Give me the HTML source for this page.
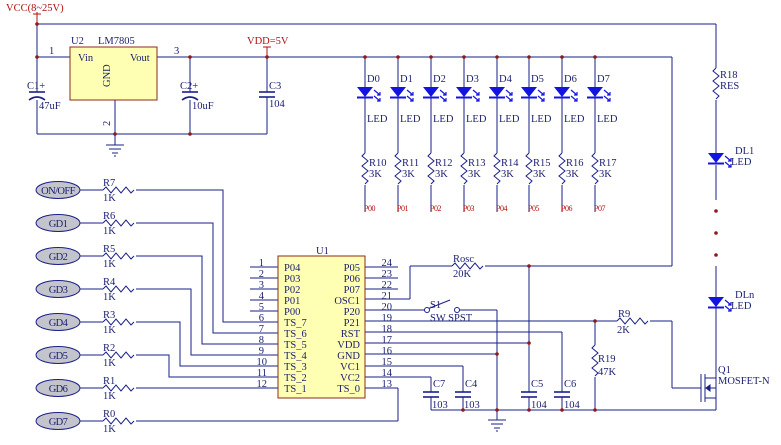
<!DOCTYPE html>
<html><head><meta charset="utf-8"><style>
html,body{margin:0;padding:0;background:#fff;}
svg{display:block;}
text{font-family:"Liberation Serif",serif;fill:#1a1f6e;}
.r{fill:#b01010;}
</style></head><body>
<svg width="781" height="445" viewBox="0 0 781 445" xmlns="http://www.w3.org/2000/svg">
<defs>
<path id="hr" d="M0,0 l3,-3 l5,6 l5,-6 l5,6 l5,-6 l5,6 l3,-3" fill="none" stroke="#1a1f8a" stroke-width="1"/>
<path id="vr" d="M0,0 l-3,3 l6,5 l-6,5 l6,5 l-6,5 l6,5 l-3,3" fill="none" stroke="#1a1f8a" stroke-width="1"/>
<g id="led">
<path d="M-8,0 L8,0 L0,10 Z" fill="#1414e0"/>
<line x1="-8" y1="10.5" x2="8" y2="10.5" stroke="#1414e0" stroke-width="2"/>
<path d="M9,3 l6,5 M12,8 l3,0 l0,-3 M9,9 l6,5 M12,14 l3,0 l0,-3" stroke="#1414e0" stroke-width="1.2" fill="none"/>
</g>
<circle id="dot" r="1.8" fill="#8b1a1a"/>
<g id="gnd" stroke="#1a1f8a" stroke-width="1"><line x1="-9" y1="0" x2="9" y2="0"/><line x1="-6" y1="4" x2="6" y2="4"/><line x1="-3" y1="8" x2="3" y2="8"/><line x1="-1" y1="11" x2="1" y2="11"/></g>
<g id="cap" stroke="#1a1f8a" stroke-width="1.6"><line x1="-8" y1="0" x2="8" y2="0"/><line x1="-8" y1="5" x2="8" y2="5"/></g>
</defs>
<g stroke="#1a1f8a" stroke-width="1" fill="none">
<!-- power -->
<line x1="37" y1="14" x2="37" y2="134"/>
<line x1="37" y1="24" x2="716" y2="24"/>
<line x1="37" y1="57" x2="70" y2="57"/>
<line x1="157" y1="57" x2="672" y2="57"/>
<line x1="672" y1="57" x2="672" y2="266"/>
<line x1="37" y1="134" x2="267" y2="134"/>
<line x1="115" y1="100" x2="115" y2="145"/>
<line x1="190" y1="57" x2="190" y2="134"/>
<line x1="267" y1="47" x2="267" y2="134"/>
<!-- right LEDs -->
<line x1="716" y1="24" x2="716" y2="68"/>
<line x1="716" y1="100" x2="716" y2="153"/>
<line x1="716" y1="165" x2="716" y2="200"/>
<line x1="716" y1="266" x2="716" y2="297"/>
<line x1="716" y1="308" x2="716" y2="372"/>
<line x1="716" y1="405" x2="716" y2="410"/>
<!-- rosc -->
<line x1="365" y1="299" x2="410" y2="299"/>
<line x1="410" y1="299" x2="410" y2="266"/>
<line x1="410" y1="266" x2="452" y2="266"/>
<line x1="485" y1="266" x2="672" y2="266"/>
<line x1="529" y1="266" x2="529" y2="392"/>
<line x1="529" y1="397" x2="529" y2="410"/>
<!-- right pins -->
<line x1="365" y1="267" x2="398" y2="267"/>
<line x1="365" y1="278" x2="398" y2="278"/>
<line x1="365" y1="289" x2="398" y2="289"/>
<line x1="365" y1="310" x2="425" y2="310"/>
<line x1="425" y1="310" x2="450" y2="300"/>
<line x1="459" y1="310" x2="497" y2="310"/>
<line x1="497" y1="310" x2="497" y2="420"/>
<line x1="365" y1="321" x2="617" y2="321"/>
<line x1="650" y1="321" x2="672" y2="321"/>
<line x1="672" y1="321" x2="672" y2="388"/>
<line x1="672" y1="388" x2="701" y2="388"/>
<line x1="595" y1="321" x2="595" y2="345"/>
<line x1="595" y1="377" x2="595" y2="410"/>
<line x1="365" y1="332" x2="562" y2="332"/>
<line x1="562" y1="332" x2="562" y2="392"/>
<line x1="562" y1="397" x2="562" y2="410"/>
<line x1="365" y1="343" x2="529" y2="343"/>
<line x1="365" y1="354" x2="497" y2="354"/>
<line x1="365" y1="366" x2="463" y2="366"/>
<line x1="463" y1="366" x2="463" y2="392"/>
<line x1="463" y1="397" x2="463" y2="410"/>
<line x1="365" y1="377" x2="431" y2="377"/>
<line x1="431" y1="377" x2="431" y2="392"/>
<line x1="431" y1="397" x2="431" y2="410"/>
<line x1="365" y1="388" x2="398" y2="388"/>
<line x1="398" y1="388" x2="398" y2="421"/>
<line x1="136" y1="421" x2="398" y2="421"/>
<line x1="431" y1="410" x2="716" y2="410"/>
<!-- left pins -->
<line x1="250" y1="267" x2="278" y2="267"/>
<line x1="250" y1="278" x2="278" y2="278"/>
<line x1="250" y1="289" x2="278" y2="289"/>
<line x1="250" y1="300" x2="278" y2="300"/>
<line x1="250" y1="311" x2="278" y2="311"/>
<polyline points="136,190 223,190 223,322 278,322"/>
<polyline points="136,223 213,223 213,333 278,333"/>
<polyline points="136,256 202,256 202,344 278,344"/>
<polyline points="136,289 191,289 191,355 278,355"/>
<polyline points="136,322 180,322 180,366 278,366"/>
<polyline points="136,355 169,355 169,377 278,377"/>
<line x1="136" y1="388" x2="278" y2="388"/>
<!-- GD to resistors -->
<line x1="80" y1="190" x2="103" y2="190"/><line x1="80" y1="223" x2="103" y2="223"/>
<line x1="80" y1="256" x2="103" y2="256"/><line x1="80" y1="289" x2="103" y2="289"/>
<line x1="80" y1="322" x2="103" y2="322"/><line x1="80" y1="355" x2="103" y2="355"/>
<line x1="80" y1="388" x2="103" y2="388"/><line x1="80" y1="421" x2="103" y2="421"/>
<!-- mosfet -->
<line x1="701" y1="374" x2="701" y2="402"/>
<line x1="705" y1="374" x2="705" y2="402"/>
<polyline points="705,378 716,378 716,372"/>
<polyline points="705,398 716,398 716,405"/>
<line x1="705" y1="388" x2="716" y2="388"/>
<line x1="716" y1="378" x2="716" y2="398"/>
<path d="M706,388 l4,-3 l0,6 Z" fill="#1a1f8a"/>
</g>
<!-- LED columns -->
<g stroke="#1a1f8a" stroke-width="1">
<line x1="365" y1="57" x2="365" y2="212"/><line x1="398" y1="57" x2="398" y2="212"/>
<line x1="431" y1="57" x2="431" y2="212"/><line x1="464" y1="57" x2="464" y2="212"/>
<line x1="497" y1="57" x2="497" y2="212"/><line x1="529" y1="57" x2="529" y2="212"/>
<line x1="562" y1="57" x2="562" y2="212"/><line x1="595" y1="57" x2="595" y2="212"/>
</g>
<g fill="#fff">
<rect x="360" y="153" width="10" height="32"/><rect x="393" y="153" width="10" height="32"/>
<rect x="426" y="153" width="10" height="32"/><rect x="459" y="153" width="10" height="32"/>
<rect x="492" y="153" width="10" height="32"/><rect x="524" y="153" width="10" height="32"/>
<rect x="557" y="153" width="10" height="32"/><rect x="590" y="153" width="10" height="32"/>
<rect x="710" y="68" width="10" height="32"/>
<rect x="590" y="345" width="10" height="32"/>
</g>
<use href="#vr" x="365" y="153"/><use href="#vr" x="398" y="153"/><use href="#vr" x="431" y="153"/><use href="#vr" x="464" y="153"/>
<use href="#vr" x="497" y="153"/><use href="#vr" x="529" y="153"/><use href="#vr" x="562" y="153"/><use href="#vr" x="595" y="153"/>
<use href="#vr" x="716" y="68"/><use href="#vr" x="595" y="345"/>
<use href="#led" x="365" y="87"/><use href="#led" x="398" y="87"/><use href="#led" x="431" y="87"/><use href="#led" x="464" y="87"/>
<use href="#led" x="497" y="87"/><use href="#led" x="529" y="87"/><use href="#led" x="562" y="87"/><use href="#led" x="595" y="87"/>
<use href="#led" x="716" y="153"/><use href="#led" x="716" y="297"/>
<!-- horizontal resistors -->
<use href="#hr" x="103" y="190"/><use href="#hr" x="103" y="223"/><use href="#hr" x="103" y="256"/><use href="#hr" x="103" y="289"/>
<use href="#hr" x="103" y="322"/><use href="#hr" x="103" y="355"/><use href="#hr" x="103" y="388"/><use href="#hr" x="103" y="421"/>
<use href="#hr" x="452" y="266"/><use href="#hr" x="617" y="321"/>
<!-- caps -->
<g fill="#fff"><rect x="424" y="392" width="14" height="5"/><rect x="456" y="392" width="14" height="5"/><rect x="522" y="392" width="14" height="5"/><rect x="555" y="392" width="14" height="5"/><rect x="258" y="92" width="18" height="5"/><rect x="28" y="92" width="18" height="8"/><rect x="181" y="92" width="18" height="8"/></g>
<use href="#cap" x="431" y="392"/><use href="#cap" x="463" y="392"/><use href="#cap" x="529" y="392"/><use href="#cap" x="562" y="392"/>
<g stroke="#1a1f8a" stroke-width="1.6" fill="none">
<line x1="259" y1="92" x2="275" y2="92"/><line x1="259" y1="97" x2="275" y2="97"/>
<line x1="29" y1="92" x2="45" y2="92"/><path d="M29,100 Q37,94 45,100"/>
<line x1="182" y1="92" x2="198" y2="92"/><path d="M182,100 Q190,94 198,100"/>
</g>
<use href="#gnd" x="115" y="145"/><use href="#gnd" x="497" y="420"/>
<!-- switch contacts -->
<circle cx="427" cy="310" r="2.5" fill="#fff" stroke="#1a1f8a"/><circle cx="457" cy="310" r="2.5" fill="#fff" stroke="#1a1f8a"/>
<!-- dots -->
<use href="#dot" x="37" y="24"/><use href="#dot" x="37" y="57"/><use href="#dot" x="190" y="57"/><use href="#dot" x="267" y="57"/>
<use href="#dot" x="115" y="134"/><use href="#dot" x="190" y="134"/>
<use href="#dot" x="365" y="57"/><use href="#dot" x="398" y="57"/><use href="#dot" x="431" y="57"/><use href="#dot" x="464" y="57"/>
<use href="#dot" x="497" y="57"/><use href="#dot" x="529" y="57"/><use href="#dot" x="562" y="57"/><use href="#dot" x="595" y="57"/>
<use href="#dot" x="716" y="211"/><use href="#dot" x="716" y="233"/><use href="#dot" x="716" y="255"/>
<use href="#dot" x="529" y="266"/><use href="#dot" x="529" y="343"/><use href="#dot" x="497" y="354"/><use href="#dot" x="595" y="321"/>
<use href="#dot" x="463" y="410"/><use href="#dot" x="497" y="410"/><use href="#dot" x="529" y="410"/><use href="#dot" x="562" y="410"/><use href="#dot" x="595" y="410"/>
<!-- red ticks -->
<g stroke="#b01010"><line x1="37" y1="12" x2="37" y2="24"/><line x1="33" y1="14" x2="41" y2="14"/><line x1="267" y1="47" x2="267" y2="57"/><line x1="263" y1="47" x2="271" y2="47"/></g>
<!-- chips -->
<rect x="70" y="47" width="87" height="53" fill="#ffffb4" stroke="#8b2a1a"/>
<rect x="278" y="256" width="87" height="142" fill="#ffffb4" stroke="#8b2a1a"/>
<!-- GD ellipses -->
<g fill="#c4c4cc" stroke="#1a1f8a">
<ellipse cx="58" cy="190" rx="22" ry="8.5"/><ellipse cx="58" cy="223" rx="22" ry="8.5"/><ellipse cx="58" cy="256" rx="22" ry="8.5"/><ellipse cx="58" cy="289" rx="22" ry="8.5"/>
<ellipse cx="58" cy="322" rx="22" ry="8.5"/><ellipse cx="58" cy="355" rx="22" ry="8.5"/><ellipse cx="58" cy="388" rx="22" ry="8.5"/><ellipse cx="58" cy="421" rx="22" ry="8.5"/>
</g>
<g font-size="10.5" text-anchor="middle" letter-spacing="-0.6">
<text x="58" y="194">ON/OFF</text><text x="58" y="227">GD1</text><text x="58" y="260">GD2</text><text x="58" y="293">GD3</text>
<text x="58" y="326">GD4</text><text x="58" y="359">GD5</text><text x="58" y="392">GD6</text><text x="58" y="425">GD7</text>
</g>
<g font-size="10.5">
<text x="103" y="186">R7</text><text x="103" y="201">1K</text>
<text x="103" y="219">R6</text><text x="103" y="234">1K</text>
<text x="103" y="252">R5</text><text x="103" y="267">1K</text>
<text x="103" y="285">R4</text><text x="103" y="300">1K</text>
<text x="103" y="318">R3</text><text x="103" y="333">1K</text>
<text x="103" y="351">R2</text><text x="103" y="366">1K</text>
<text x="103" y="384">R1</text><text x="103" y="399">1K</text>
<text x="103" y="417">R0</text><text x="103" y="432">1K</text>
<!-- power labels -->
<text x="71" y="44">U2</text><text x="98" y="44">LM7805</text>
<text x="78" y="61">Vin</text><text x="130" y="61">Vout</text>
<text x="49" y="54">1</text><text x="174" y="54">3</text>
<text transform="translate(110,87) rotate(-90)">GND</text>
<text transform="translate(110,126) rotate(-90)">2</text>
<text x="27" y="89">C1+</text><text x="39" y="109">47uF</text>
<text x="180" y="89">C2+</text><text x="192" y="109">10uF</text>
<text x="269" y="89">C3</text><text x="269" y="107">104</text>
<!-- LED labels -->
<text x="367" y="82">D0</text><text x="400" y="82">D1</text><text x="433" y="82">D2</text><text x="466" y="82">D3</text>
<text x="499" y="82">D4</text><text x="531" y="82">D5</text><text x="564" y="82">D6</text><text x="597" y="82">D7</text>
<text x="367" y="122">LED</text><text x="400" y="122">LED</text><text x="433" y="122">LED</text><text x="466" y="122">LED</text>
<text x="499" y="122">LED</text><text x="531" y="122">LED</text><text x="564" y="122">LED</text><text x="597" y="122">LED</text>
<text x="369" y="166">R10</text><text x="402" y="166">R11</text><text x="435" y="166">R12</text><text x="468" y="166">R13</text>
<text x="501" y="166">R14</text><text x="533" y="166">R15</text><text x="566" y="166">R16</text><text x="599" y="166">R17</text>
<text x="369" y="177">3K</text><text x="402" y="177">3K</text><text x="435" y="177">3K</text><text x="468" y="177">3K</text>
<text x="501" y="177">3K</text><text x="533" y="177">3K</text><text x="566" y="177">3K</text><text x="599" y="177">3K</text>
<text x="720" y="78">R18</text><text x="720" y="89">RES</text>
<text x="735" y="154">DL1</text><text x="731" y="165">LED</text>
<text x="735" y="298">DLn</text><text x="731" y="309">LED</text>
<!-- U1 -->
<text x="316" y="254">U1</text>
<text x="284" y="271">P04</text><text x="284" y="282">P03</text><text x="284" y="293">P02</text><text x="284" y="304">P01</text><text x="284" y="315">P00</text>
<text x="284" y="326">TS_7</text><text x="284" y="337">TS_6</text><text x="284" y="348">TS_5</text><text x="284" y="359">TS_4</text>
<text x="284" y="370">TS_3</text><text x="284" y="381">TS_2</text><text x="284" y="392">TS_1</text>
</g>
<g font-size="10.5" text-anchor="end">
<text x="360" y="271">P05</text><text x="360" y="282">P06</text><text x="360" y="293">P07</text><text x="360" y="304">OSC1</text>
<text x="360" y="315">P20</text><text x="360" y="326">P21</text><text x="360" y="337">RST</text><text x="360" y="348">VDD</text>
<text x="360" y="359">GND</text><text x="360" y="370">VC1</text><text x="360" y="381">VC2</text><text x="360" y="392">TS_0</text>
<text x="264" y="266">1</text><text x="264" y="277">2</text><text x="264" y="288">3</text><text x="264" y="299">4</text><text x="264" y="310">5</text>
<text x="264" y="321">6</text><text x="264" y="332">7</text><text x="264" y="343">8</text><text x="264" y="354">9</text>
<text x="267" y="365">10</text><text x="267" y="376">11</text><text x="267" y="387">12</text>
<text x="392" y="266">24</text><text x="392" y="277">23</text><text x="392" y="288">22</text><text x="392" y="299">21</text>
<text x="392" y="310">20</text><text x="392" y="321">19</text><text x="392" y="332">18</text><text x="392" y="343">17</text>
<text x="392" y="354">16</text><text x="392" y="365">15</text><text x="392" y="376">14</text><text x="392" y="387">13</text>
</g>
<g font-size="10.5">
<text x="453" y="262">Rosc</text><text x="453" y="277">20K</text>
<text x="430" y="308">S1</text><text x="430" y="321">SW SPST</text>
<text x="433" y="387">C7</text><text x="432" y="408">103</text>
<text x="465" y="387">C4</text><text x="464" y="408">103</text>
<text x="531" y="387">C5</text><text x="531" y="408">104</text>
<text x="564" y="387">C6</text><text x="564" y="408">104</text>
<text x="618" y="317">R9</text><text x="617" y="333">2K</text>
<text x="598" y="362">R19</text><text x="598" y="375">47K</text>
<text x="718" y="373">Q1</text><text x="718" y="384">MOSFET-N</text>
</g>
<g font-size="10.5" class="r">
<text class="r" x="6" y="11">VCC(8~25V)</text>
<text class="r" x="247" y="44">VDD=5V</text>
</g>
<g font-size="8" letter-spacing="-0.5">
<text class="r" x="364" y="211">P00</text><text class="r" x="397" y="211">P01</text><text class="r" x="430" y="211">P02</text><text class="r" x="463" y="211">P03</text>
<text class="r" x="496" y="211">P04</text><text class="r" x="528" y="211">P05</text><text class="r" x="561" y="211">P06</text><text class="r" x="594" y="211">P07</text>
</g>
</svg>
</body></html>
